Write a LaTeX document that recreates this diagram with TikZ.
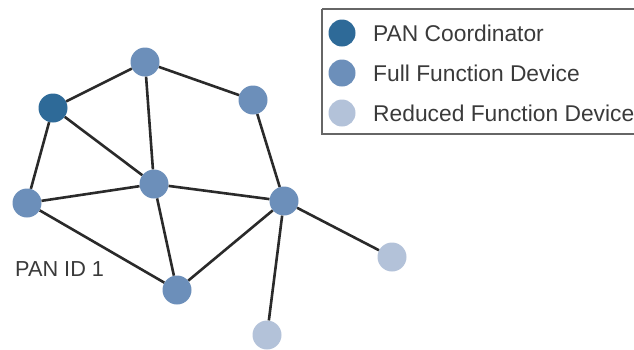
\documentclass[tikz,border=0pt]{standalone}
\usepackage{fontspec}
\setmainfont{Liberation Sans}
\definecolor{coordc}{HTML}{2E6A98}
\definecolor{ffdc}{HTML}{6C8FBA}
\definecolor{rfdc}{HTML}{B3C2D9}
\definecolor{linec}{HTML}{2A2A2A}
\definecolor{textc}{HTML}{3A3A3A}
\begin{document}
\begin{tikzpicture}[x=1pt,y=-1pt,
  dev/.style={circle,minimum size=29pt,inner sep=0pt,draw=none},
  coord/.style={dev,fill=coordc},
  ffd/.style={dev,fill=ffdc},
  rfd/.style={dev,fill=rfdc},
  link/.style={draw=linec,line width=2.6pt},
  lbl/.style={anchor=base west,text=textc,font=\fontsize{22.8}{26}\selectfont,inner sep=0pt}]
\useasboundingbox (0,0) rectangle (634,349);
\clip (0,0) rectangle (634,349);
% legend
\draw[draw=gray!80!black,line width=1.4pt] (322,9) -- (640,9) (322,9) -- (322,134) -- (640,134);
\node[coord,minimum size=27pt] (lc) at (342,33) {};
\node[ffd,minimum size=27pt] (lf) at (342,73) {};
\node[rfd,minimum size=27pt] (lr) at (342,113) {};
\node[lbl] (tc) at (373,41) {PAN Coordinator};
\node[lbl] (tf) at (373,81) {Full Function Device};
\node[lbl] (tr) at (373,121) {Reduced Function Device};
% network nodes
\node[coord] (pan) at (53,108) {};
\node[ffd] (top) at (145,62) {};
\node[ffd] (rt) at (253,100) {};
\node[ffd] (ctr) at (154,184) {};
\node[ffd] (lft) at (27,203) {};
\node[ffd] (rgt) at (284,201) {};
\node[ffd] (bot) at (177,290) {};
\node[rfd] (r1) at (392,257) {};
\node[rfd] (r2) at (267,335) {};
% links
\path[link] (pan) -- (top);
\path[link] (top) -- (rt);
\path[link] (pan) -- (lft);
\path[link] (pan) -- (ctr);
\path[link] (top) -- (ctr);
\path[link] (lft) -- (ctr);
\path[link] (lft) -- (bot);
\path[link] (ctr) -- (bot);
\path[link] (ctr) -- (rgt);
\path[link] (rt) -- (rgt);
\path[link] (bot) -- (rgt);
\path[link] (rgt) -- (r1);
\path[link] (rgt) -- (r2);
\node[lbl,font=\fontsize{21.7}{25}\selectfont] (pid) at (15,276) {PAN ID 1};
\end{tikzpicture}
\end{document}
